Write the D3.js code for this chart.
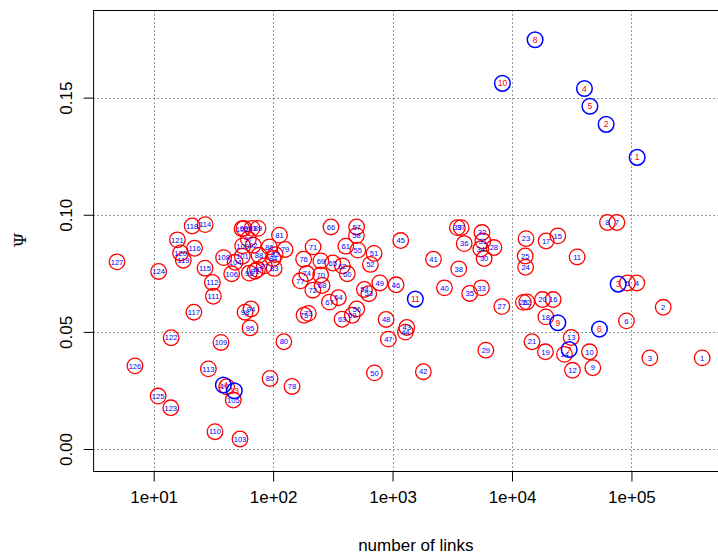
<!DOCTYPE html>
<html>
<head>
<meta charset="utf-8">
<script src="https://cdn.jsdelivr.net/npm/d3@7"></script>
<style>
  html, body { margin: 0; padding: 0; background: #fff; }
  svg { display: block; }
</style>
</head>
<body>
<script>
// Number of links per network (series A, labelled 1..127 in order)
const linksA = [391000, 184500, 142600, 110900, 92500, 90800, 75500, 63000, 47500, 44500,
  35100, 32100, 31300, 27500, 24200, 22100, 19300, 19200, 19050, 18000,
  14700, 13300, 13100, 13000, 12900, 12450, 8220, 7050, 6040, 5840,
  5700, 5600, 5550, 5480, 4420, 3980, 3750, 3580, 3490, 2720,
  2200, 1810, 1315, 1280, 1170, 1070, 922, 883, 782, 705,
  700, 652, 632, 581, 512, 501, 500, 498, 460, 418,
  406, 380, 378, 352, 316, 305, 296, 257, 251, 250,
  216, 215, 197, 191, 181.5, 180, 169, 144, 126, 123,
  113, 104, 102, 100, 94.2, 92.9, 84.4, 76.2, 74.8, 74.0,
  70.5, 68.2, 66.6, 65.3, 64.1, 63.2, 62.0, 58.2, 57.0, 55.6,
  55.2, 54.9, 52.8, 48.0, 46.4, 45.0, 40.8, 38.5, 36.6, 32.6,
  31.6, 31.0, 28.7, 27.0, 26.9, 22.0, 21.7, 21.0, 17.7, 16.8,
  15.8, 14.0, 13.9, 11.0, 10.9, 6.97, 4.93];

// Psi for series A
const psiA = [0.0389, 0.0605, 0.0389, 0.0709, 0.0709, 0.0547, 0.0967, 0.0967, 0.0347, 0.0415,
  0.0820, 0.0336, 0.0476, 0.0404, 0.0910, 0.0638, 0.0888, 0.0564, 0.0415, 0.0638,
  0.0458, 0.0628, 0.0898, 0.0776, 0.0824, 0.0626, 0.0608, 0.0860, 0.0422, 0.0813,
  0.0888, 0.0924, 0.0688, 0.0854, 0.0664, 0.0877, 0.0945, 0.0769, 0.0945, 0.0688,
  0.0810, 0.0330, 0.0519, 0.0499, 0.0890, 0.0701, 0.0469, 0.0553, 0.0709, 0.0325,
  0.0835, 0.0788, 0.0663, 0.0681, 0.0849, 0.0598, 0.0948, 0.0911, 0.0571, 0.0748,
  0.0866, 0.0782, 0.0554, 0.0646, 0.0794, 0.0948, 0.0627, 0.0698, 0.0803, 0.0743,
  0.0863, 0.0678, 0.0579, 0.0749, 0.0571, 0.0810, 0.0718, 0.0267, 0.0852, 0.0458,
  0.0913, 0.0830, 0.0771, 0.0813, 0.0301, 0.0863, 0.0782, 0.0827, 0.0942, 0.0767,
  0.0759, 0.0870, 0.0942, 0.0598, 0.0517, 0.0751, 0.0896, 0.0584, 0.0942, 0.0867,
  0.0823, 0.0940, 0.0043, 0.0797, 0.0209, 0.0748, 0.0266, 0.0817, 0.0455, 0.0074,
  0.0652, 0.0711, 0.0342, 0.0958, 0.0772, 0.0857, 0.0584, 0.0952, 0.0806, 0.0837,
  0.0893, 0.0475, 0.0176, 0.0758, 0.0226, 0.0355, 0.0799];

// Series B: links, Psi and labels
const linksB = [111700, 61400, 77400, 40400, 44900, 54000, 30100, 15600, 24200, 8310, 1550, 47.3, 38.3];
const psiB = [0.1245, 0.1386, 0.0704, 0.1539, 0.1463, 0.0512, 0.0425, 0.1747, 0.0539, 0.1561, 0.0640, 0.0249, 0.0273];
const labelsB = ["1", "2", "3", "4", "5", "6", "7", "8", "9", "10", "11", "13", "14"];

// Axis ticks
const xTicks = [1e1, 1e2, 1e3, 1e4, 1e5];
const xTickLabels = ["1e+01", "1e+02", "1e+03", "1e+04", "1e+05"];
const yTicks = [0, 0.05, 0.10, 0.15];
const yTickLabels = ["0.00", "0.05", "0.10", "0.15"];

const W = 718, H = 557;
const plot = { left: 93.6, right: 738, top: 10.5, bottom: 471.5 };
const FONT = "'Liberation Sans', Arial, Helvetica, sans-serif";

const svg = d3.select("body").append("svg")
  .attr("width", W).attr("height", H)
  .attr("viewBox", `0 0 ${W} ${H}`);
svg.append("rect").attr("width", W).attr("height", H).attr("fill", "#fff");

const x = d3.scaleLog().domain([3.14, 7.8e5]).range([plot.left, plot.right]);
const y = d3.scaleLinear().domain([-0.0096, 0.1872]).range([plot.bottom, plot.top]);

// dotted grid
const grid = svg.append("g").attr("stroke", "#333").attr("stroke-width", 1)
  .attr("stroke-dasharray", "1,3");
grid.selectAll("line.gx").data(xTicks).join("line")
  .attr("x1", d => Math.round(x(d)) + 0.5).attr("x2", d => Math.round(x(d)) + 0.5)
  .attr("y1", plot.top).attr("y2", plot.bottom);
grid.selectAll("line.gy").data(yTicks).join("line")
  .attr("y1", d => Math.round(y(d)) + 0.5).attr("y2", d => Math.round(y(d)) + 0.5)
  .attr("x1", plot.left).attr("x2", plot.right);

// axes
const xAxis = svg.append("g").attr("transform", `translate(0,${plot.bottom})`)
  .call(d3.axisBottom(x).tickValues(xTicks).tickSize(10).tickSizeOuter(0).tickPadding(9.5)
    .tickFormat((d, i) => xTickLabels[i]));
xAxis.select(".domain").remove();
xAxis.selectAll("line").attr("stroke", "#000");
xAxis.selectAll("text").attr("font-family", FONT).attr("font-size", 17).attr("fill", "#000");

const yAxis = svg.append("g").attr("transform", `translate(${plot.left},0)`)
  .call(d3.axisLeft(y).tickValues(yTicks).tickSize(10).tickSizeOuter(0)
    .tickFormat((d, i) => yTickLabels[i]));
yAxis.select(".domain").remove();
yAxis.selectAll("line").attr("stroke", "#000");
yAxis.selectAll("text")
  .attr("font-family", FONT).attr("font-size", 17).attr("fill", "#000")
  .attr("text-anchor", "middle").attr("dy", null).attr("x", 0).attr("y", -22)
  .attr("transform", "rotate(-90)");

// plot frame
svg.append("rect")
  .attr("x", plot.left).attr("y", plot.top)
  .attr("width", plot.right - plot.left).attr("height", plot.bottom - plot.top)
  .attr("fill", "none").attr("stroke", "#000").attr("stroke-width", 1);

// axis titles
svg.append("text").attr("x", (plot.left + plot.right) / 2).attr("y", 551)
  .attr("text-anchor", "middle").attr("font-family", FONT).attr("font-size", 17)
  .attr("fill", "#000").text("number of links");
svg.append("text").attr("transform", "translate(26,240) rotate(-90)")
  .attr("text-anchor", "middle").attr("font-family", "'DejaVu Serif', 'Liberation Serif', serif")
  .attr("font-size", 17).attr("fill", "#000").text("Ψ");

// points: circles with their index labels
const R = 7.8;
const ptsA = linksA.map((v, i) => ({ links: v, psi: psiA[i], label: String(i + 1) }));
const ptsB = linksB.map((v, i) => ({ links: v, psi: psiB[i], label: labelsB[i] }));

const gA = svg.append("g");
gA.selectAll("circle").data(ptsA).join("circle")
  .attr("cx", d => x(d.links)).attr("cy", d => y(d.psi)).attr("r", R)
  .attr("fill", "none").attr("stroke", "#ff0000").attr("stroke-width", 1.3);
gA.selectAll("text").data(ptsA).join("text")
  .attr("x", d => x(d.links)).attr("y", d => y(d.psi)).attr("dy", "0.36em")
  .attr("text-anchor", "middle").attr("font-family", FONT).attr("font-size", 7.6)
  .attr("fill", "#0000ff").text(d => d.label);

const gB = svg.append("g");
gB.selectAll("circle").data(ptsB).join("circle")
  .attr("cx", d => x(d.links)).attr("cy", d => y(d.psi)).attr("r", R)
  .attr("fill", "none").attr("stroke", "#0000ff").attr("stroke-width", 1.5);
gB.selectAll("text").data(ptsB).join("text")
  .attr("x", d => x(d.links)).attr("y", d => y(d.psi)).attr("dy", "0.36em")
  .attr("text-anchor", "middle").attr("font-family", FONT).attr("font-size", 8.5)
  .attr("fill", "#ff0000").text(d => d.label);
</script>
</body>
</html>
